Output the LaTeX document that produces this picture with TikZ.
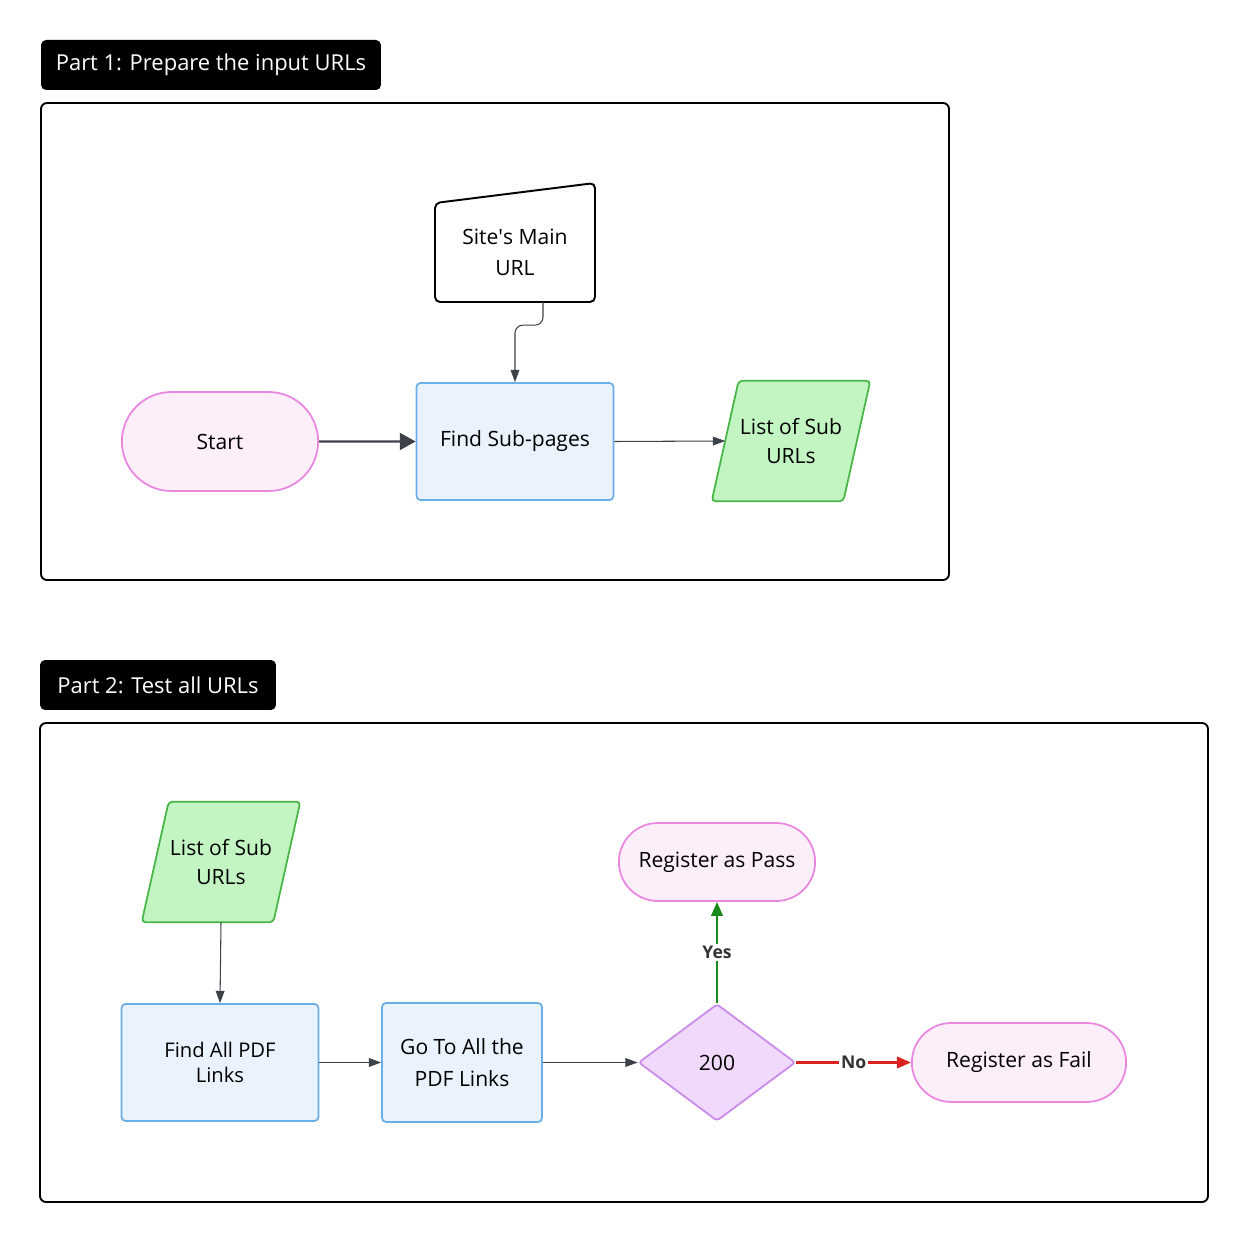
\documentclass[tikz,border=0pt]{standalone}
\usepackage{fontspec}
\setmainfont{Open Sans}
\usetikzlibrary{arrows.meta,shapes.geometric,shapes.misc,backgrounds}
\definecolor{pinkfill}{HTML}{FDEFFA}
\definecolor{pinkline}{HTML}{EB86E0}
\definecolor{bluefill}{HTML}{EAF3FD}
\definecolor{blueline}{HTML}{6AAEE6}
\definecolor{greenfill}{HTML}{C3F5C3}
\definecolor{greenline}{HTML}{47B647}
\definecolor{purplefill}{HTML}{F1D9FB}
\definecolor{purpleline}{HTML}{C98AEA}
\definecolor{linegray}{HTML}{3D4148}
\definecolor{yesgreen}{HTML}{18891A}
\definecolor{nored}{HTML}{D92222}
\definecolor{labelgray}{HTML}{333333}

\begin{document}
\begin{tikzpicture}[x=0.02cm,y=-0.02cm,
    every node/.style={font=\fontsize{12}{18}\selectfont,align=center},
    header/.style={fill=black,text=white,rounded corners=0.1cm,minimum height=1cm,font=\fontsize{12.5}{14}\selectfont},
    frame/.style={draw=black,line width=1.1pt,rounded corners=0.12cm},
    terminal/.style={rounded rectangle,draw=pinkline,fill=pinkfill,line width=1pt},
    process/.style={rectangle,rounded corners=0.08cm,draw=blueline,fill=bluefill,line width=1pt},
    data/.style={minimum width=2.62cm,minimum height=2.4cm,font=\fontsize{12}{16.5}\selectfont},
    datashape/.style={draw=greenline,fill=greenfill,line width=1pt,rounded corners=0.08cm},
    decision/.style={diamond,draw=purpleline,fill=purplefill,line width=1pt,minimum width=3.14cm,minimum height=2.34cm,rounded corners=0.06cm},
    thinarrow/.style={draw=linegray,line width=0.6pt,-{Triangle[length=7pt,width=5pt]}},
    boldarrow/.style={line width=1.4pt,-{Triangle[length=8pt,width=6.5pt]}},
    edgelabel/.style={fill=white,font=\fontsize{10}{12}\selectfont\bfseries,text=labelgray,inner sep=1pt}
    ]
    \begin{scope}[on background layer]
        \fill[white] (0,0) rectangle (1249,1243);
    \end{scope}
    \useasboundingbox (0,0) rectangle (1249,1243);

    \node[header,minimum width=6.8cm] (head1) at (211,65) {Part 1: Prepare the input URLs};
    \draw[frame] (41,103) rectangle (949,580);

    \node[minimum width=3.2cm,minimum height=1.98cm,outer sep=0pt] (mainurl) at (515,252.5) {Site\textquotesingle s Main\\URL};
    \draw[line width=1.1pt,rounded corners=0.1cm] (mainurl.south west) -- (mainurl.south east) -- (595,183) -- (mainurl.north west) -- cycle;
    \node[terminal,minimum width=4.16cm,minimum height=1.98cm] (start) at (220,441.5) {Start};
    \node[process,minimum width=3.94cm,minimum height=2.34cm] (find) at (515,441.5) {Find Sub-pages};
    \node[data] (list1) at (791,441) {List of Sub\\URLs};

    \draw[thinarrow,rounded corners=0.16cm] ([xshift=0.56cm]mainurl.south) |- ([yshift=1.14cm]find.north) -- (find.north);
    \draw[line width=1.4pt,draw=linegray,-{Triangle[length=9pt,width=9.6pt]}] (start) -- (find);
    \draw[thinarrow] (find.east) -- (list1.west);

    \node[header,minimum width=4.72cm] (head2) at (158,685) {Part 2: Test all URLs};
    \draw[frame] (40,723) rectangle (1208,1202);

    \node[data] (list2) at (221,862) {List of Sub\\URLs};
    \node[process,minimum width=3.94cm,minimum height=2.34cm,font=\fontsize{11.5}{14.5}\selectfont] (findall) at (220,1062.5) {Find All PDF\\Links};
    \node[process,minimum width=3.2cm,minimum height=2.38cm] (goto) at (462,1062.5) {Go To All the\\PDF Links};
    \node[decision] (check) at (717,1062.5) {200};
    \node[terminal,minimum width=4.16cm,minimum height=1.56cm] (pass) at (717,862) {Register as Pass};
    \node[terminal,minimum width=4.52cm,minimum height=1.58cm] (fail) at (1019,1062.5) {Register as Fail};

    \begin{scope}[on background layer]
        \foreach \n in {list1,list2}{
            \draw[datashape] ([xshift=-0.27cm]\n.south west) -- ([xshift=-0.27cm]\n.south east) -- ([xshift=0.27cm]\n.north east) -- ([xshift=0.27cm]\n.north west) -- cycle;
        }
    \end{scope}

    \draw[thinarrow] (list2.south) -- (findall.north);
    \draw[thinarrow] (findall.east) -- (goto.west);
    \draw[thinarrow] (goto.east) -- (check.west);
    \draw[boldarrow,draw=yesgreen,fill=yesgreen] (check.north) -- node[edgelabel] {Yes} (pass.south);
    \draw[boldarrow,draw=nored,fill=nored] (check.east) -- node[edgelabel] {No} (fail.west);
\end{tikzpicture}
\end{document}
